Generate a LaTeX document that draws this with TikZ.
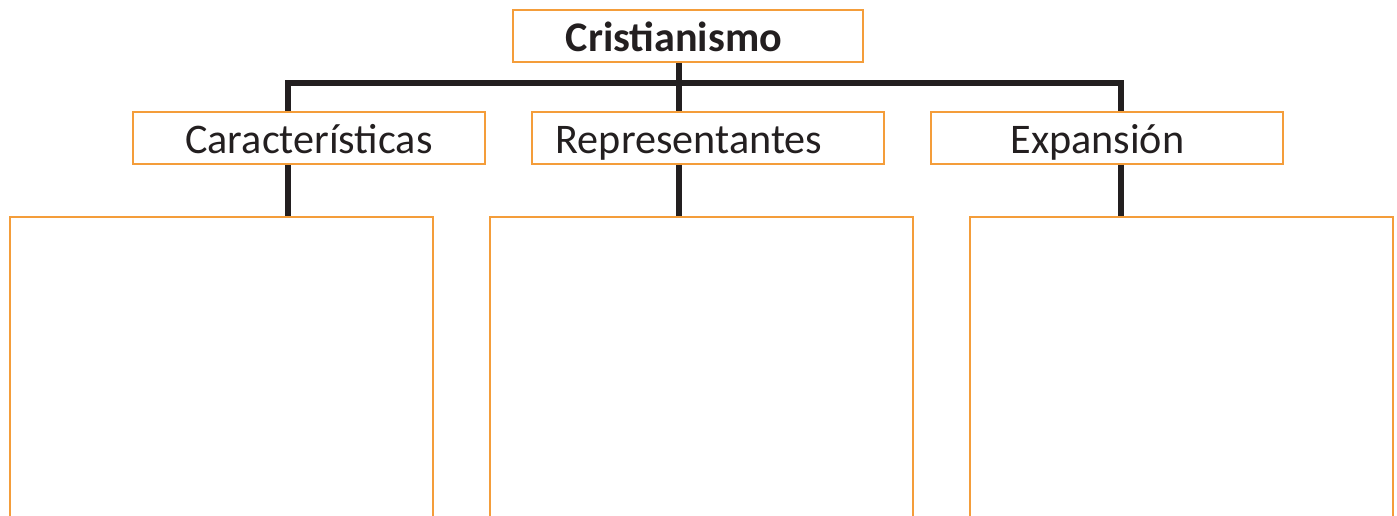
\documentclass[tikz,border=0pt]{standalone}
\usepackage{fontspec}
\setmainfont{Carlito}
\definecolor{boxorange}{RGB}{244,157,58}
\definecolor{linkblack}{RGB}{35,31,32}
\begin{document}
\begin{tikzpicture}[x=0.02cm, y=-0.02cm,
% common options for the title boxes:
head/.style = {draw=boxorange, line width=1.1pt, anchor=north west,
            minimum width=7.04cm, minimum height=1.04cm, inner sep=0,
            text height=0.84cm, text depth=0.2cm,
            font=\fontsize{24}{28}\selectfont, text=linkblack},
% common options for the empty boxes below:
answer/.style = {draw=boxorange, line width=1.1pt, anchor=north west,
            minimum width=8.46cm, minimum height=7cm, inner sep=0},
% the black joining lines:
link/.style = {draw=linkblack, line width=3pt}]
\useasboundingbox (0,0) rectangle (1397,516);
\clip (0,0) rectangle (1397,516);
\node[head,minimum width=7cm,font=\fontsize{24}{28}\selectfont\bfseries] (cris) at (512,9) {Cristianismo\hspace*{0.56cm}};
\node[head] (car) at (132,111) {Características};
\node[head] (rep) at (531,111) {Representantes\hspace*{0.76cm}};
\node[head] (exp) at (930,111) {Expansión\hspace*{0.38cm}};
\node[answer] (ansA) at (9,216) {};
\node[answer] (ansB) at (489,216) {};
\node[answer] (ansC) at (969,216) {};
\coordinate (jA) at (288,83);
\coordinate (jB) at (679,83);
\coordinate (jC) at (1121,83);
\draw[link] (cris.south -| jB) -- (rep.north -| jB);
\draw[link] (car.north -| jA) -- (jA) -- (jC) -- (exp.north -| jC);
\draw[link] (car.south -| jA) -- (ansA.north -| jA);
\draw[link] (rep.south -| jB) -- (ansB.north -| jB);
\draw[link] (exp.south -| jC) -- (ansC.north -| jC);
\end{tikzpicture}
\end{document}
